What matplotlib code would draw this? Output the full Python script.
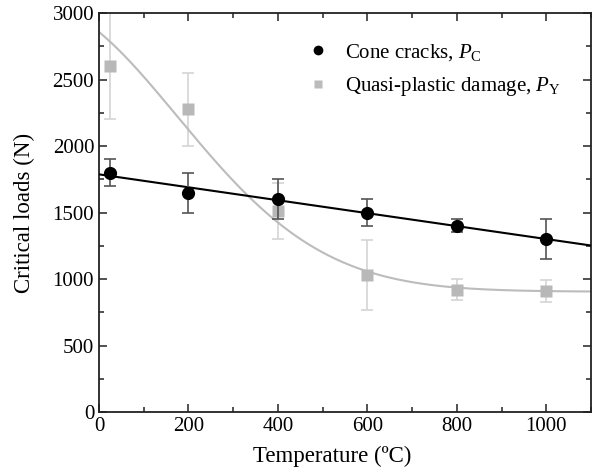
import numpy as np
import matplotlib
matplotlib.use("Agg")
import matplotlib.pyplot as plt
from matplotlib.ticker import MultipleLocator
from matplotlib.lines import Line2D

plt.rcParams['font.family'] = ['Liberation Serif', 'DejaVu Serif']
plt.rcParams['mathtext.fontset'] = 'custom'
plt.rcParams['mathtext.rm'] = 'Liberation Serif'
plt.rcParams['mathtext.it'] = 'Liberation Serif:italic'

# Measured critical loads vs. temperature
temperature = [25, 200, 400, 600, 800, 1000]
cone_load = [1800, 1650, 1600, 1500, 1400, 1300]
cone_err = [100, 150, 150, 100, 50, 150]
qp_load = [2600, 2275, 1510, 1030, 920, 910]
qp_err = [400, 275, 210, 263, 80, 80]

# Fit parameters for the quasi-plastic curve (Gaussian decay onto a plateau)
qp_plateau = 905.0
qp_amp = 2171.0
qp_center = -150.0
qp_width = 460.0

fig = plt.figure(figsize=(5.98, 4.75), dpi=100)
ax = fig.add_axes([0.1656, 0.1326, 0.8227, 0.84])

xfit = np.linspace(0, 1100, 400)
coef = np.polyfit(temperature, cone_load, 1)
ax.plot(xfit, np.polyval(coef, xfit), color='black', lw=1.5, zorder=3)
ax.plot(xfit, qp_plateau + qp_amp * np.exp(-((xfit - qp_center) / qp_width) ** 2),
        color='#bcbcbc', lw=1.5, zorder=2)

ax.errorbar(temperature, qp_load, yerr=qp_err, fmt='none', ecolor='#d4d4d4',
            elinewidth=1.2, capsize=4, capthick=1.2, zorder=1)
ax.errorbar(temperature, cone_load, yerr=cone_err, fmt='none', ecolor='#555555',
            elinewidth=1.2, capsize=4, capthick=1.2, zorder=4)
ax.plot(temperature, qp_load, 's', color='#b8b8b8', ms=8, mec='none', zorder=2)
ax.plot(temperature, cone_load, 'o', color='black', ms=9.5, mec='none', zorder=5)

ax.set_xlim(0, 1100)
ax.set_ylim(0, 3000)
ax.xaxis.set_major_locator(MultipleLocator(200))
ax.xaxis.set_minor_locator(MultipleLocator(100))
ax.yaxis.set_major_locator(MultipleLocator(500))
ax.yaxis.set_minor_locator(MultipleLocator(250))
ax.tick_params(which='both', direction='in', top=True, right=True, labelsize=15,
               width=1.2, color='#333333')
ax.tick_params(which='major', length=6)
ax.tick_params(which='minor', length=3.5)
for s in ax.spines.values():
    s.set_linewidth(1.3)
    s.set_color('#222222')

ax.set_xlabel('Temperature (ºC)', fontsize=16.5)
ax.set_ylabel('Critical loads (N)', fontsize=16.5)
ax.xaxis.set_label_coords(0.474, -0.085)
ax.yaxis.set_label_coords(-0.13, 0.5)

handles = [
    Line2D([], [], ls='none', marker='o', color='black', ms=7, mec='none'),
    Line2D([], [], ls='none', marker='s', color='#bbbbbb', ms=6, mec='none'),
]
labels = [r'Cone cracks, $P_{\mathrm{C}}$', r'Quasi-plastic damage, $P_{\mathrm{Y}}$']
ax.legend(handles, labels, loc='upper left', bbox_to_anchor=(0.382, 0.975),
          frameon=False, fontsize=15, handletextpad=0.7, labelspacing=0.6,
          handlelength=1.2)

fig.savefig('out.png', dpi=100)
